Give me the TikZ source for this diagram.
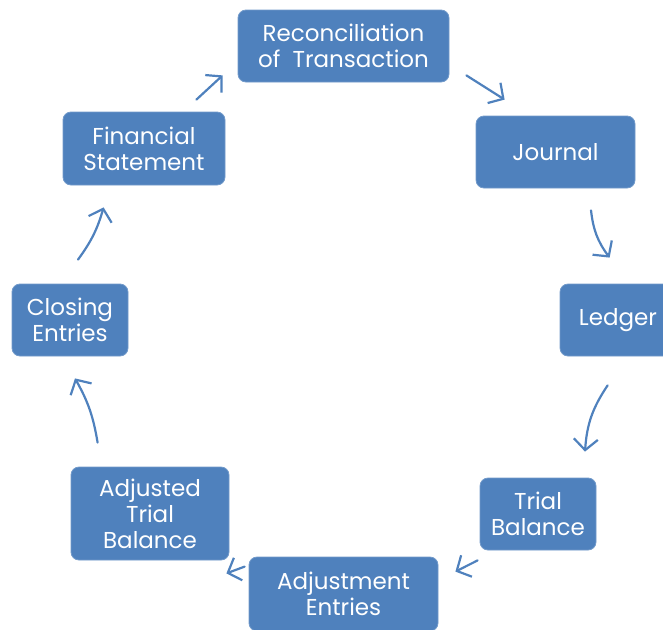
\documentclass[tikz,border=0pt]{standalone}
\usepackage{fontspec}
\setmainfont{Poppins}
\usetikzlibrary{arrows.meta}
\definecolor{cycleblue}{HTML}{4F81BD}
\begin{document}
\begin{tikzpicture}[x=1pt,y=-1pt,
    stage/.style={fill=cycleblue, draw=cycleblue!80!white, line width=0.8pt, rounded corners=8pt,
      text=white, align=center, inner sep=0pt, font=\fontsize{23}{26}\selectfont},
    flow/.style={cycleblue, line width=2.2pt, line cap=round, -{Straight Barb[length=11pt,width=24pt]}}]
    \useasboundingbox (0,0) rectangle (663,629);
    \node [stage, minimum width=211pt, minimum height=72pt] (Recon) at (343.5,46) {Reconciliation\\of\ \ Transaction};
    \node [stage, minimum width=159pt, minimum height=72pt] (Journal) at (555.5,152) {Journal};
    \node [stage, minimum width=116pt, minimum height=72pt] (Ledger) at (618,320) {Ledger};
    \node [stage, minimum width=116pt, minimum height=72pt] (Trial) at (538,514) {Trial\\Balance};
    \node [stage, minimum width=189pt, minimum height=74pt] (Adjust) at (343.5,594) {Adjustment\\Entries};
    \node [stage, minimum width=158pt, minimum height=93pt] (AdjTrial) at (150,513.5) {Adjusted\\Trial\\Balance};
    \node [stage, minimum width=116pt, minimum height=72pt] (Closing) at (70,320) {Closing\\Entries};
    \node [stage, minimum width=162pt, minimum height=73pt] (Financial) at (144,148.5) {Financial\\Statement};
    \draw [flow] ([shift={(17,-7)}]Recon.south east) -- ([shift={(29,-16)}]Journal.north west);
    \draw [flow] ([shift={(35.5,22)}]Journal.south) to[bend right=15] ([shift={(50,-26)}]Ledger.north west);
    \draw [flow] ([shift={(48,29)}]Ledger.south west) to[bend right=15] ([shift={(47,-26)}]Trial.north);
    \draw [flow] ([shift={(-2,10)}]Trial.south west) -- ([shift={(17,15)}]Adjust.north east);
    \draw [flow] ([shift={(-4,10)}]Adjust.north west) -- ([shift={(-3,13)}]AdjTrial.south east);
    \draw [flow] ([shift={(27,-24)}]AdjTrial.north west) to[bend right=10] ([shift={(5,22)}]Closing.south);
    \draw [flow] ([shift={(8,-24)}]Closing.north) to[bend right=10] ([shift={(41,22)}]Financial.south west);
    \draw [flow] ([shift={(-29,-12)}]Financial.north east) -- ([shift={(-15,-7)}]Recon.south west);
\end{tikzpicture}
\end{document}
